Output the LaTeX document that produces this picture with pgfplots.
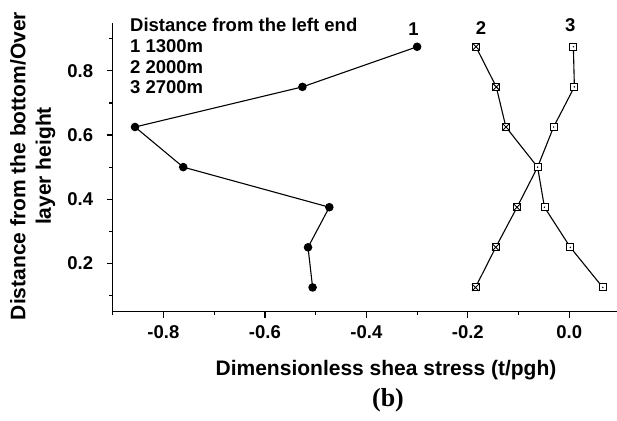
\documentclass[border=0pt]{standalone}
\usepackage{fontspec}
\setmainfont{Liberation Sans}
\newfontfamily\serifb{Liberation Serif}
\usepackage{pgfplots}
\pgfplotsset{compat=1.18}

\pgfdeclareplotmark{sqx}{%
  \pgfpathrectangle{\pgfpoint{-\pgfplotmarksize}{-\pgfplotmarksize}}{\pgfpoint{2\pgfplotmarksize}{2\pgfplotmarksize}}%
  \pgfusepathqfillstroke
  \pgfpathmoveto{\pgfpoint{-\pgfplotmarksize}{-\pgfplotmarksize}}%
  \pgfpathlineto{\pgfpoint{\pgfplotmarksize}{\pgfplotmarksize}}%
  \pgfpathmoveto{\pgfpoint{-\pgfplotmarksize}{\pgfplotmarksize}}%
  \pgfpathlineto{\pgfpoint{\pgfplotmarksize}{-\pgfplotmarksize}}%
  \pgfusepathqstroke}
\pgfdeclareplotmark{sqdot}{%
  \pgfpathrectangle{\pgfpoint{-\pgfplotmarksize}{-\pgfplotmarksize}}{\pgfpoint{2\pgfplotmarksize}{2\pgfplotmarksize}}%
  \pgfusepathqfillstroke
  \begin{pgfscope}%
  \pgfsetfillcolor{black}%
  \pgfpathcircle{\pgfpointorigin}{0.8bp}%
  \pgfusepathqfill
  \end{pgfscope}}

\begin{document}
\begin{tikzpicture}
\begin{axis}[
  scale only axis, width=504.3bp, height=288.8bp,
  at={(0,0)}, anchor=south west,
  xmin=-0.9, xmax=0.094, ymin=0.05, ymax=0.95,
  axis x line*=bottom, axis y line*=left,
  axis line style={line width=1.4bp, -},
  tick align=outside, major tick length=6bp, minor tick length=3.5bp,
  tick style={line width=1.2bp, black},
  xtick={-0.8,-0.6,-0.4,-0.2,0}, minor xtick={-0.9,-0.7,-0.5,-0.3,-0.1},
  ytick={0.2,0.4,0.6,0.8}, minor ytick={0.1,0.3,0.5,0.7,0.9},
  ticklabel style={font=\fontsize{18.5bp}{20bp}\selectfont\bfseries},
  xticklabel style={yshift=-5bp},
  yticklabel style={xshift=-10bp},
  /pgf/number format/fixed, /pgf/number format/fixed zerofill,
  /pgf/number format/precision=1, /pgf/number format/assume math mode=true,
  xlabel={Dimensionless shea stress (t/pgh)},
  xlabel style={at={(axis description cs:0.542,0)}, anchor=base, yshift=-63.5bp,
    font=\fontsize{21bp}{24bp}\selectfont\bfseries},
  clip=false,
]
\addplot[black, line width=1.1bp, mark=*, mark size=3.7bp, mark options={solid, fill=black}]
  coordinates {(-0.506,0.125) (-0.515,0.25) (-0.473,0.375) (-0.761,0.5) (-0.856,0.625) (-0.526,0.75) (-0.300,0.875)};
\addplot[black, line width=1.1bp, mark=sqx, mark size=3.5bp, mark options={solid, fill=white, line width=0.9bp}]
  coordinates {(-0.185,0.125) (-0.145,0.25) (-0.103,0.375) (-0.0625,0.5) (-0.125,0.625) (-0.144,0.75) (-0.184,0.875)};
\addplot[black, line width=1.1bp, mark=sqdot, mark size=3.5bp, mark options={solid, fill=white, line width=0.9bp}]
  coordinates {(0.066,0.125) (0.002,0.25) (-0.049,0.375) (-0.0625,0.5) (-0.031,0.625) (0.010,0.75) (0.008,0.875)};
\begin{scope}[font=\fontsize{18.5bp}{20bp}\selectfont\bfseries]
\node[anchor=base west, inner sep=0] at (axis cs:-0.866,0.922) {Distance from the left end};
\node[anchor=base west, inner sep=0] at (axis cs:-0.866,0.857) {1 1300m};
\node[anchor=base west, inner sep=0] at (axis cs:-0.866,0.793) {2 2000m};
\node[anchor=base west, inner sep=0] at (axis cs:-0.866,0.728) {3 2700m};
\node[anchor=base, inner sep=0] at (axis cs:-0.307,0.909) {1};
\node[anchor=base, inner sep=0] at (axis cs:-0.174,0.9125) {2};
\node[anchor=base, inner sep=0] at (axis cs:0.002,0.922) {3};
\end{scope}
\end{axis}
\node[rotate=90, align=center, anchor=center, inner sep=0,
  font=\fontsize{21bp}{25.5bp}\selectfont\bfseries] at (-79.9bp,145.5bp)
  {Distance from the bottom/Over\\layer height};
\node[anchor=base, inner sep=0, font=\serifb\bfseries\fontsize{26bp}{28bp}\selectfont] at (275.3bp,-95.2bp) {(b)};
\pgfresetboundingbox
\useasboundingbox (-112.7bp,-109.5bp) rectangle (504.3bp,311.5bp);
\end{tikzpicture}
\end{document}
